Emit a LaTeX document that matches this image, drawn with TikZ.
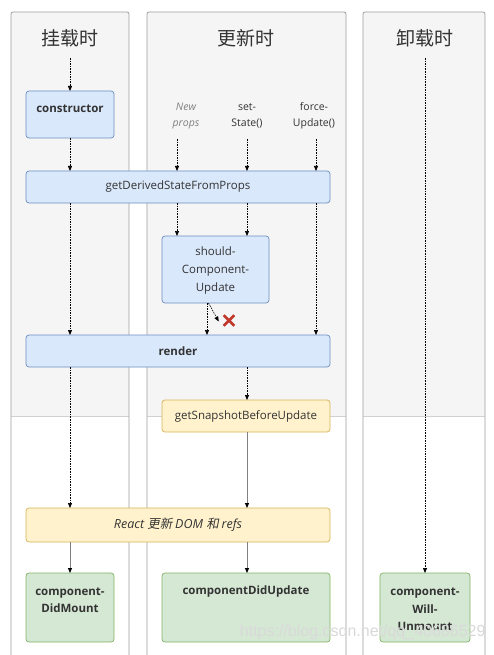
\documentclass[tikz,border=0pt]{standalone}
\usepackage{fontspec}
\setmainfont{Open Sans}
\newfontfamily\cjk{Noto Sans CJK SC}
\newfontfamily\cjkit{Noto Sans CJK SC}[FakeSlant=0.2]
\newfontfamily\wmfont{Liberation Sans}
\usetikzlibrary{arrows.meta,shapes.misc}
\definecolor{bluef}{HTML}{DAE8FC}
\definecolor{blued}{HTML}{6C8EBF}
\definecolor{yelf}{HTML}{FFF2CC}
\definecolor{yeld}{HTML}{D6B656}
\definecolor{grnf}{HTML}{D5E8D4}
\definecolor{grnd}{HTML}{82B366}
\definecolor{panelbg}{HTML}{F5F5F5}
\definecolor{panelln}{HTML}{9E9E9E}
\definecolor{txt}{HTML}{333333}
\definecolor{xred}{HTML}{C0392B}
\begin{document}
\begin{tikzpicture}[x=1pt,y=-1pt,
  box/.style={draw, rounded corners=3pt, line width=0.7pt, inner sep=0pt, outer sep=0pt, text=txt, font=\fontsize{11.5}{14}\selectfont},
  bluebox/.style={box, fill=bluef, draw=blued},
  yelbox/.style={box, fill=yelf, draw=yeld},
  grnbox/.style={box, fill=grnf, draw=grnd},
  boxtext/.style={text=txt, align=center, font=\fontsize{11.5}{17}\selectfont},
  title/.style={text=txt, font=\cjk\fontsize{19}{22}\selectfont},
  trig/.style={text=txt, align=center, font=\fontsize{10.5}{16}\selectfont},
  darr/.style={line width=0.7pt, dash pattern=on 1.6pt off 1pt, -{Triangle[length=5pt,width=4pt]}},
  sarr/.style={line width=0.8pt, draw=gray, -{Triangle[length=5pt,width=4pt,color=black]}},
  panel/.style={draw=panelln, line width=0.8pt, rounded corners=2pt}
]
\useasboundingbox (0,0) rectangle (494,655);
\fill[white] (0,0) rectangle (494,655);
% panels
\foreach \a/\b in {11/129,147/346,363/485}{
  \fill[panelbg] (\a,12) rectangle (\b,416);
  \draw[draw=black!18, line width=0.8pt] (\a,416) -- (\b,416);
  \draw[panel] (\a,656) |- (\b,12) -- (\b,656);
}
% titles
\node[title] (t1) at (70,38) {挂载时};
\node[title] (t2) at (246,38) {更新时};
\node[title] (t3) at (425,38) {卸载时};
% triggers
\node[trig] (np) at (186,116) {\textcolor{gray}{\itshape New}\\\textcolor{gray}{\itshape props}};
\node[trig] (ss) at (247,116) {set-\\State()};
\node[trig] (fu) at (314,116) {force-\\Update()};
% boxes
\node[bluebox, minimum width=88pt, minimum height=47pt] (cons) at (70,114.5) {};
\node[boxtext, font=\bfseries\fontsize{11.5}{17}\selectfont] (cons-t) at (70,109) {constructor};
\node[bluebox, minimum width=304pt, minimum height=32pt] (gdsfp) at (178,187) {getDerivedStateFromProps};
\node[bluebox, minimum width=107pt, minimum height=67pt] (scu) at (215.5,269.5) {};
\node[boxtext, font=\fontsize{11.5}{18}\selectfont] (scu-t) at (215.5,271) {should-\\Component-\\Update};
\node[bluebox, minimum width=304pt, minimum height=32pt, font=\bfseries\fontsize{11.5}{14}\selectfont] (render) at (178,351) {render};
\node[yelbox, minimum width=168pt, minimum height=32pt] (gsbu) at (246,416) {getSnapshotBeforeUpdate};
\node[yelbox, minimum width=304pt, minimum height=34pt, font=\fontsize{12.5}{15}\selectfont] (react) at (178,525) {\itshape React \cjkit 更新 \normalfont\itshape DOM \cjkit 和 \normalfont\itshape refs};
\node[grnbox, minimum width=88pt, minimum height=69pt] (cdm) at (70,607.5) {};
\node[boxtext, font=\bfseries\fontsize{11.5}{17}\selectfont] (cdm-t) at (70,600.5) {component-\\DidMount};
\node[grnbox, minimum width=168pt, minimum height=69pt] (cdu) at (246,607.5) {};
\node[boxtext, font=\bfseries\fontsize{11.5}{17}\selectfont] (cdu-t) at (246,592) {componentDidUpdate};
\node[grnbox, minimum width=90pt, minimum height=69pt] (cwu) at (425,607.5) {};
\node[boxtext, font=\bfseries\fontsize{11.5}{17.5}\selectfont] (cwu-t) at (425,609.5) {component-\\Will-\\Unmount};
% x-coordinates of the lanes
\coordinate (xa) at (177,0);
\coordinate (xb) at (247,0);
\coordinate (xc) at (316,0);
\coordinate (xs) at (207,0);
\coordinate (topm) at (70,58);
\coordinate (topu) at (425,58);
\coordinate (npb) at (177,139);
\coordinate (ssb) at (247,139);
\coordinate (fub) at (316,139);
% red cross
\node[cross out, draw=xred, line width=2.6pt, minimum size=8pt, inner sep=0pt] (xmark) at (229,320.5) {};
% connectors
\draw[darr] (topm) -- (cons);
\draw[darr] (topu) -- (cwu);
\draw[darr] (npb) -- (npb |- gdsfp.north);
\draw[darr] (ssb) -- (ssb |- gdsfp.north);
\draw[darr] (fub) -- (fub |- gdsfp.north);
\draw[darr] (cons) -- (cons |- gdsfp.north);
\draw[darr] (gdsfp.south -| xa) -- (scu.north -| xa);
\draw[darr] (gdsfp.south -| xb) -- (scu.north -| xb);
\draw[darr] (gdsfp.south -| xc) -- (render.north -| xc);
\draw[darr] (gdsfp.south -| cons) -- (render.north -| cons);
\draw[darr] (scu.south -| xs) -- (render.north -| xs);
\draw[line width=0.6pt, dash pattern=on 1.6pt off 1pt, -{Triangle[length=5pt,width=4pt]}] ([xshift=1.5pt]scu.south -| xs) -- ([xshift=-5pt,yshift=-1pt]xmark.west);
\draw[darr] (render.south -| xb) -- (gsbu.north -| xb);
\draw[darr] (render.south -| cons) -- (react.north -| cons);
\draw[sarr] (gsbu.south -| xb) -- (react.north -| xb);
\draw[sarr] (react.south -| cons) -- (cdm.north);
\draw[sarr] (react.south -| xb) -- (cdu.north -| xb);
% watermark
\node[text=gray!30, font=\wmfont\fontsize{16}{18}\selectfont, anchor=east] (wm) at (489,632) {https://blog.csdn.net/qq\_40686529};
\end{tikzpicture}
\end{document}
